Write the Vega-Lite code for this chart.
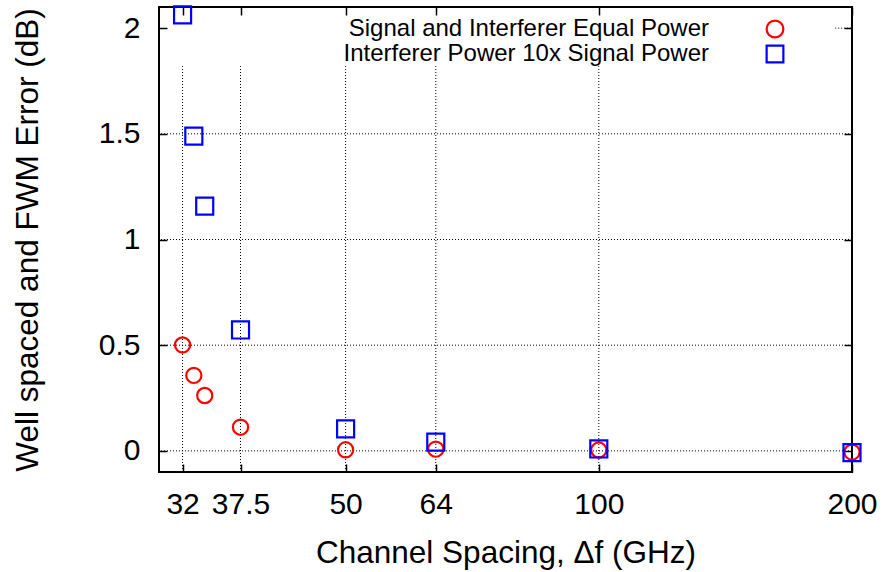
{
  "$schema": "https://vega.github.io/schema/vega-lite/v6.json",
  "width": 693,
  "height": 465,
  "autosize": {"type": "none"},
  "padding": {"left": 159, "top": 7, "right": 34, "bottom": 100},
  "background": "white",
  "config": {
    "view": {"stroke": "#000", "strokeWidth": 2},
    "font": "Liberation Sans",
    "axis": {
      "labelFont": "Liberation Sans",
      "titleFont": "Liberation Sans",
      "labelColor": "#000",
      "titleColor": "#000",
      "tickColor": "#000",
      "tickWidth": 1.5,
      "labelFontSize": 30,
      "titleFontSize": 31.5,
      "titleFontWeight": "normal",
      "grid": false,
      "domain": false
    },
    "legend": {
      "labelFont": "Liberation Sans",
      "labelFontSize": 24,
      "labelColor": "#000"
    }
  },
  "datasets": {
    "pts": [
      {"f": 32, "err": 0.501, "series": "Signal and Interferer Equal Power"},
      {"f": 33, "err": 0.357, "series": "Signal and Interferer Equal Power"},
      {"f": 34, "err": 0.262, "series": "Signal and Interferer Equal Power"},
      {"f": 37.5, "err": 0.112, "series": "Signal and Interferer Equal Power"},
      {"f": 50, "err": 0.005, "series": "Signal and Interferer Equal Power"},
      {"f": 64, "err": 0.008, "series": "Signal and Interferer Equal Power"},
      {"f": 100, "err": 0.004, "series": "Signal and Interferer Equal Power"},
      {"f": 200, "err": -0.006, "series": "Signal and Interferer Equal Power"},
      {"f": 32, "err": 2.063, "series": "Interferer Power 10x Signal Power"},
      {"f": 33, "err": 1.489, "series": "Interferer Power 10x Signal Power"},
      {"f": 34, "err": 1.158, "series": "Interferer Power 10x Signal Power"},
      {"f": 37.5, "err": 0.572, "series": "Interferer Power 10x Signal Power"},
      {"f": 50, "err": 0.104, "series": "Interferer Power 10x Signal Power"},
      {"f": 64, "err": 0.041, "series": "Interferer Power 10x Signal Power"},
      {"f": 100, "err": 0.009, "series": "Interferer Power 10x Signal Power"},
      {"f": 200, "err": -0.008, "series": "Interferer Power 10x Signal Power"}
    ]
  },
  "layer": [
    {
      "data": {"values": [{"g": 32}, {"g": 37.5}, {"g": 50}, {"g": 64}, {"g": 100}]},
      "mark": {"type": "rule", "color": "#000", "strokeWidth": 1, "strokeDash": [1, 2]},
      "encoding": {
        "x": {
          "field": "g", "type": "quantitative",
          "scale": {"type": "log", "domain": [30, 200], "nice": false},
          "axis": {"orient": "top", "values": [32, 37.5, 50, 64, 100, 200], "labels": false, "title": null, "tickSize": -8}
        },
        "y": {"datum": -0.1, "type": "quantitative", "scale": {"domain": [-0.1, 2.1], "nice": false, "zero": false}, "axis": null},
        "y2": {"datum": 1.82}
      }
    },
    {
      "data": {"values": [{"h": 0}, {"h": 0.5}, {"h": 1}, {"h": 1.5}]},
      "mark": {"type": "rule", "color": "#000", "strokeWidth": 1, "strokeDash": [1, 2]},
      "encoding": {
        "y": {
          "field": "h", "type": "quantitative",
          "scale": {"domain": [-0.1, 2.1], "nice": false, "zero": false},
          "axis": {"orient": "right", "values": [0, 0.5, 1, 1.5, 2], "labels": false, "title": null, "tickSize": -8}
        }
      }
    },
    {
      "data": {"values": [{"h": 2}]},
      "mark": {"type": "rule", "color": "#000", "strokeWidth": 1, "strokeDash": [1, 2]},
      "encoding": {
        "y": {"field": "h", "type": "quantitative", "axis": null},
        "x": {"datum": 191, "type": "quantitative", "axis": null},
        "x2": {"datum": 200}
      }
    },
    {
      "data": {"name": "pts"},
      "transform": [{"filter": "datum.series === 'Signal and Interferer Equal Power'"}],
      "mark": {"type": "point", "filled": false, "strokeWidth": 2.2, "size": 230, "opacity": 1},
      "encoding": {
        "x": {
          "field": "f", "type": "quantitative",
          "scale": {"type": "log", "domain": [30, 200], "nice": false},
          "axis": {"orient": "bottom", "values": [32, 37.5, 50, 64, 100, 200], "tickSize": -8, "labelPadding": 25,
                   "title": "Channel Spacing, Δf (GHz)", "titleY": 90, "titleBaseline": "alphabetic", "labelFlush": false, "labelOverlap": false}
        },
        "y": {
          "field": "err", "type": "quantitative",
          "scale": {"domain": [-0.1, 2.1], "nice": false, "zero": false},
          "axis": {"orient": "left", "values": [0, 0.5, 1, 1.5, 2], "format": "~g", "tickSize": -8, "labelPadding": 27,
                   "title": "Well spaced and FWM Error (dB)", "titleX": -122, "titleBaseline": "alphabetic"}
        },
        "color": {
          "field": "series", "type": "nominal",
          "scale": {"domain": ["Signal and Interferer Equal Power", "Interferer Power 10x Signal Power"], "range": ["#ff0000", "#0000ff"]},
          "legend": {"orient": "none", "legendX": 604, "legendY": 10, "title": null, "labelAlign": "right", "labelOffset": -78,
                     "symbolSize": 280, "symbolStrokeWidth": 2.2, "rowPadding": -4, "labelLimit": 500}
        },
        "shape": {
          "field": "series", "type": "nominal",
          "scale": {"domain": ["Signal and Interferer Equal Power", "Interferer Power 10x Signal Power"], "range": ["circle", "square"]}
        }
      }
    },
    {
      "data": {"name": "pts"},
      "transform": [{"filter": "datum.series === 'Interferer Power 10x Signal Power'"}],
      "mark": {"type": "point", "filled": false, "strokeWidth": 2.2, "size": 290, "opacity": 1},
      "encoding": {
        "x": {"field": "f", "type": "quantitative", "scale": {"type": "log", "domain": [30, 200], "nice": false}, "axis": null},
        "y": {"field": "err", "type": "quantitative", "scale": {"domain": [-0.1, 2.1], "nice": false, "zero": false}, "axis": null},
        "color": {
          "field": "series", "type": "nominal",
          "scale": {"domain": ["Signal and Interferer Equal Power", "Interferer Power 10x Signal Power"], "range": ["#ff0000", "#0000ff"]}
        },
        "shape": {
          "field": "series", "type": "nominal",
          "scale": {"domain": ["Signal and Interferer Equal Power", "Interferer Power 10x Signal Power"], "range": ["circle", "square"]}
        }
      }
    }
  ],
  "resolve": {"axis": {"x": "independent", "y": "independent"}}
}
